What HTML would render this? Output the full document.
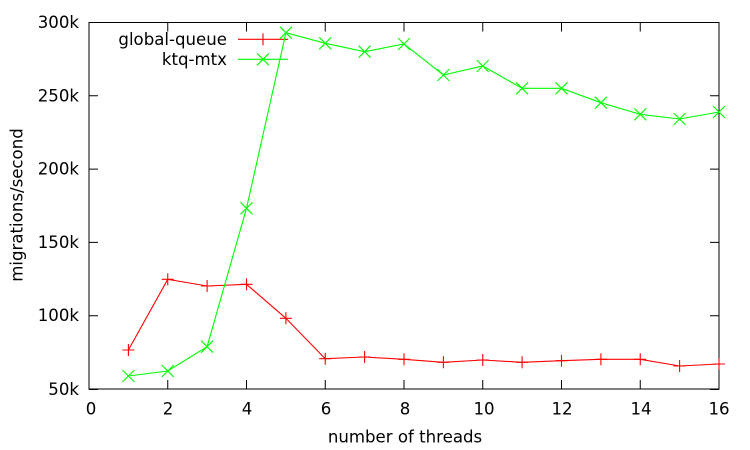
<!DOCTYPE html>
<html><head><meta charset="utf-8"><style>
html,body{margin:0;padding:0;background:#fff;}
svg{display:block;}
text{font-family:"DejaVu Sans","Liberation Sans",sans-serif;font-size:16.6px;fill:#000;}
</style></head><body>
<svg width="750" height="450" viewBox="0 0 750 450" xmlns="http://www.w3.org/2000/svg">
<rect width="750" height="450" fill="#fff"/>
<g stroke="#000" stroke-width="1" fill="none">
<path d="M89 389.5h9M719 389.5h-9 M89 315.7h9M719 315.7h-9 M89 242.4h9M719 242.4h-9 M89 169.1h9M719 169.1h-9 M89 95.8h9M719 95.8h-9 M89 22.5h9M719 22.5h-9"/>
<path d="M89 389v-9M89 22.5v9 M167.75 389v-9M167.75 22.5v9 M246.5 389v-9M246.5 22.5v9 M325.25 389v-9M325.25 22.5v9 M404 389v-9M404 22.5v9 M482.75 389v-9M482.75 22.5v9 M561.5 389v-9M561.5 22.5v9 M640.25 389v-9M640.25 22.5v9 M719 389v-9M719 22.5v9"/>
<rect x="89" y="22.5" width="630" height="366.5"/>
</g>
<g text-anchor="end" dominant-baseline="central">
<text x="79" y="389.5">50k</text>
<text x="79" y="315.7">100k</text>
<text x="79" y="242.4">150k</text>
<text x="79" y="169.1">200k</text>
<text x="79" y="95.8">250k</text>
<text x="79" y="22.5">300k</text>
</g>
<g text-anchor="middle" dominant-baseline="central">
<text x="91" y="409">0</text>
<text x="168" y="409">2</text>
<text x="247" y="409">4</text>
<text x="326" y="409">6</text>
<text x="405" y="409">8</text>
<text x="484" y="409">10</text>
<text x="562" y="409">12</text>
<text x="641" y="409">14</text>
<text x="719" y="409">16</text>
<text x="405" y="437">number of threads</text>
<text transform="translate(17,205) rotate(-90)">migrations/second</text>
</g>
<g text-anchor="end" dominant-baseline="central">
<text x="227" y="39.3">global-queue</text>
<text x="227" y="59.3">ktq-mtx</text>
</g>
<g stroke="#ff0000" stroke-width="1.1" fill="none">
<path d="M238 39.3H288M263 33.3v12M257 39.3h12"/>
<polyline points="128.4,350 167.75,279.3 207.1,286 246.5,284.3 285.9,318.3 325.25,358.7 364.6,357 404,359.3 443.4,362.3 482.75,360 522.1,362.3 561.5,360.7 600.9,359.3 640.25,359.3 679.6,366 719,364"/>
<path d="M128.4 344v12M122.4 350h12 M167.75 273.3v12M161.75 279.3h12 M207.1 280v12M201.1 286h12 M246.5 278.3v12M240.5 284.3h12 M285.9 312.3v12M279.9 318.3h12 M325.25 352.7v12M319.25 358.7h12 M364.6 351v12M358.6 357h12 M404 353.3v12M398 359.3h12 M443.4 356.3v12M437.4 362.3h12 M482.75 354v12M476.75 360h12 M522.1 356.3v12M516.1 362.3h12 M561.5 354.7v12M555.5 360.7h12 M600.9 353.3v12M594.9 359.3h12 M640.25 353.3v12M634.25 359.3h12 M679.6 360v12M673.6 366h12 M719 358v12M713 364h12"/>
</g>
<g stroke="#00ff00" stroke-width="1.1" fill="none">
<path d="M238 59.3H288M257 53.3l12 12M257 65.3l12-12"/>
<polyline points="128.4,376 167.75,371 207.1,346.7 246.5,208.3 285.9,32.7 325.25,43.3 364.6,51.7 404,44 443.4,75 482.75,66 522.1,88.3 561.5,88.3 600.9,102.7 640.25,114.3 679.6,119 719,112"/>
<path d="M122.4 370l12 12M122.4 382l12-12 M161.75 365l12 12M161.75 377l12-12 M201.1 340.7l12 12M201.1 352.7l12-12 M240.5 202.3l12 12M240.5 214.3l12-12 M279.9 26.7l12 12M279.9 38.7l12-12 M319.25 37.3l12 12M319.25 49.3l12-12 M358.6 45.7l12 12M358.6 57.7l12-12 M398 38l12 12M398 50l12-12 M437.4 69l12 12M437.4 81l12-12 M476.75 60l12 12M476.75 72l12-12 M516.1 82.3l12 12M516.1 94.3l12-12 M555.5 82.3l12 12M555.5 94.3l12-12 M594.9 96.7l12 12M594.9 108.7l12-12 M634.25 108.3l12 12M634.25 120.3l12-12 M673.6 113l12 12M673.6 125l12-12 M713 106l12 12M713 118l12-12"/>
</g>
</svg>
</body></html>
